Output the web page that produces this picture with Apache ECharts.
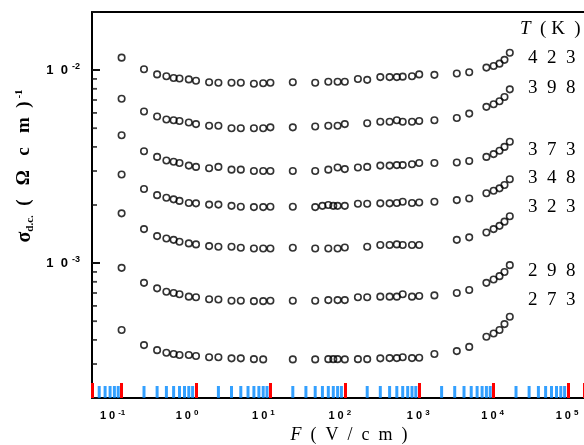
<!DOCTYPE html>
<html>
<head>
<meta charset="utf-8">
<script src="https://cdn.jsdelivr.net/npm/echarts@6/dist/echarts.min.js"></script>
<style>
html, body { margin: 0; padding: 0; background: #fff; }
#chart { width: 584px; height: 445px; }
</style>
</head>
<body>
<div id="chart"></div>
<script>
// field F (V/cm), shared by all temperatures
var field = [0.1, 0.2, 0.3, 0.4, 0.5, 0.6, 0.8, 1, 1.5, 2, 3, 4, 6, 8, 10, 20, 40, 50, 60, 70, 80, 100,
  150, 200, 300, 400, 500, 600, 800, 1000, 1600, 3200, 4700, 8000, 10000, 12000, 14000, 16500];

// sigma d.c. (ohm cm)^-1, null = no point
var s423 = [0.0116, 0.0101, 0.0095, 0.0093, 0.0091, 0.00905, 0.00895, 0.0088, 0.00865, 0.0086, 0.0086, 0.0086, 0.0085, 0.00855, 0.0086, 0.00865, 0.0086, null, 0.0087, null, 0.0087, 0.0087,
  0.0090, 0.0089, 0.0092, 0.0092, 0.0092, 0.00925, 0.0093, 0.0095, 0.00945, 0.0096, 0.00975, 0.0103, 0.0105, 0.0108, 0.0113, 0.0123];
var s398 = [0.0071, 0.0061, 0.00575, 0.00555, 0.0055, 0.00545, 0.00535, 0.00525, 0.00515, 0.00515, 0.0050, 0.0050, 0.0050, 0.0050, 0.00505, 0.00505, 0.0051, null, 0.00515, null, 0.00515, 0.00525,
  null, 0.0053, 0.0054, 0.0054, 0.0055, 0.0054, 0.0054, 0.00545, 0.0055, 0.00565, 0.00595, 0.00645, 0.00665, 0.0069, 0.00725, 0.00795];
var s373 = [0.0046, 0.0038, 0.00355, 0.0034, 0.00335, 0.0033, 0.0032, 0.00315, 0.0031, 0.00315, 0.00305, 0.00305, 0.0030, 0.0030, 0.0030, 0.0030, 0.0030, null, 0.00305, null, 0.00313, 0.00307,
  0.00313, 0.00315, 0.0032, 0.0032, 0.00322, 0.00322, 0.00325, 0.0033, 0.0033, 0.00332, 0.00338, 0.00355, 0.00367, 0.00382, 0.0040, 0.00425];
var s348 = [0.00288, 0.00242, 0.00225, 0.00218, 0.00214, 0.0021, 0.00205, 0.00204, 0.00201, 0.00201, 0.00198, 0.00196, 0.00195, 0.00195, 0.00196, 0.00196, 0.00195, 0.00198, 0.0020, 0.00198, 0.00198, 0.00198,
  0.00203, 0.00203, 0.00204, 0.00204, 0.00205, 0.00208, 0.00205, 0.00206, 0.00208, 0.00212, 0.00216, 0.0023, 0.00237, 0.00244, 0.00254, 0.00272];
var s323 = [0.00181, 0.0015, 0.00138, 0.00134, 0.00132, 0.00129, 0.001265, 0.00125, 0.001225, 0.001215, 0.001215, 0.0012, 0.00119, 0.00119, 0.00119, 0.0012, 0.00119, null, 0.00119, null, 0.00119, 0.001205,
  null, 0.001215, 0.00124, 0.00124, 0.00125, 0.00124, 0.00124, 0.00124, null, 0.00132, 0.00136, 0.00144, 0.0015, 0.00156, 0.00164, 0.00175];
var s298 = [0.000945, 0.00079, 0.00074, 0.00071, 0.0007, 0.00069, 0.00067, 0.000665, 0.00065, 0.000648, 0.000638, 0.000638, 0.000635, 0.000635, 0.000638, 0.000638, 0.000638, null, 0.000643, null, 0.000643, 0.000643,
  0.000665, 0.000665, 0.00067, 0.00067, 0.00067, 0.00069, 0.00067, 0.000675, 0.00068, 0.0007, 0.000725, 0.00079, 0.000823, 0.000856, 0.0009, 0.000976];
var s273 = [0.00045, 0.000376, 0.000354, 0.000343, 0.000338, 0.000334, 0.000334, 0.00033, 0.000325, 0.000325, 0.000321, 0.000321, 0.000318, 0.000317, null, 0.000317, 0.000317, null, 0.000318, 0.000318, 0.000318, 0.000317,
  0.000318, 0.000318, 0.000321, 0.000322, 0.000322, 0.000325, 0.000322, 0.000323, 0.000338, 0.00035, 0.000368, 0.000415, 0.000432, 0.00045, 0.000483, 0.000527];

var temps = ['4  2  3', '3  9  8', '3  7  3', '3  4  8', '3  2  3', '2  9  8', '2  7  3'];
var allSeries = [s423, s398, s373, s348, s323, s298, s273];

// axis range and minor tick steps
var xMin = 0.04, xMax = 164000, yMin = 2e-4, yMax = 2e-2;
var minorSteps = [2, 3, 4, 5, 6, 7, 8, 9];
var xDecades = [0.01, 0.1, 1, 10, 100, 1000, 10000, 100000];
var yDecades = [0.0001, 0.001, 0.01];

var serif = 'Liberation Serif';
var sans = 'Liberation Sans';

function pairs(ys) {
  var out = [];
  for (var i = 0; i < field.length; i++) {
    if (ys[i] != null) out.push([field[i], ys[i]]);
  }
  return out;
}

var xMinor = [], yMinor = [];
xDecades.forEach(function (d) {
  minorSteps.forEach(function (m) {
    var v = +(m * d).toPrecision(6);
    if (v > xMin * 1.001 && v < xMax * 0.999) xMinor.push([v, yMin]);
  });
});
yDecades.forEach(function (d) {
  minorSteps.forEach(function (m) {
    var v = +(m * d).toPrecision(6);
    if (v > yMin * 1.001 && v < yMax * 0.999) yMinor.push([xMin, v]);
  });
});

function powLabel(v) {
  var e = Math.log10(v);
  var r = Math.round(e);
  if (Math.abs(e - r) > 1e-6) return '';
  return r;
}

// the scanned x labels sit a little left of their ticks at the low end
var xLabelPad = { '-1': 'w18', '0': 'w18', '1': 'w14', '2': 'w10' };

var myChart = echarts.init(document.getElementById('chart'));

var series = allSeries.map(function (ys) {
  return {
    type: 'scatter',
    data: pairs(ys),
    symbol: 'circle',
    symbolSize: 6.5,
    itemStyle: {
      color: 'rgba(0,0,0,0)',
      borderColor: '#000',
      borderWidth: 1.6
    },
    silent: true
  };
});

// minor ticks (2..9 of every decade), drawn inward
series.push({
  type: 'scatter',
  data: xMinor,
  symbol: 'rect',
  symbolSize: [3, 12],
  symbolOffset: [0, -6],
  itemStyle: { color: '#08f' },
  clip: false,
  silent: true,
  z: 5
});
series.push({
  type: 'scatter',
  data: yMinor,
  symbol: 'rect',
  symbolSize: [5, 1.8],
  symbolOffset: [2.5, 0],
  itemStyle: { color: '#111' },
  clip: false,
  silent: true,
  z: 5
});

// temperature labels down the right side
var labelY = [58, 88, 150, 178, 207, 271, 300];
var titles = [{
  text: '{i|T}{n|  ( K  )}',
  left: 520, top: 19, padding: 0,
  textStyle: {
    lineHeight: 20,
    rich: {
      i: { fontFamily: serif, fontStyle: 'italic', fontWeight: 'normal', fontSize: 19, color: '#000', lineHeight: 20 },
      n: { fontFamily: serif, fontWeight: 'normal', fontSize: 19, color: '#000', lineHeight: 20 }
    }
  }
}];
temps.forEach(function (t, k) {
  titles.push({
    text: t,
    left: 528, top: labelY[k] - 10, padding: 0,
    textStyle: { fontFamily: serif, fontWeight: 'normal', fontSize: 19, color: '#000', lineHeight: 20 }
  });
});

var option = {
  animation: false,
  title: titles,
  grid: {
    left: 92, top: 12, right: 0, bottom: 47,
    outerBoundsMode: 'none'
  },
  xAxis: [{
    type: 'log',
    min: xMin,
    max: xMax,
    name: '{i|F}{n|  (  V  /  c  m  )}',
    nameLocation: 'middle',
    nameGap: 27,
    nameTextStyle: {
      padding: [0, 0, 0, 22],
      rich: {
        i: { fontFamily: serif, fontStyle: 'italic', fontSize: 18, color: '#000', lineHeight: 20 },
        n: { fontFamily: serif, fontSize: 18, color: '#000', lineHeight: 20 }
      }
    },
    axisLine: { show: true, lineStyle: { color: '#000', width: 2 } },
    axisTick: { show: true, inside: true, length: 15, lineStyle: { color: '#f00', width: 3 } },
    splitLine: { show: false },
    axisLabel: {
      margin: 11,
      formatter: function (v) {
        var r = powLabel(v);
        if (r === '') return '';
        var p = xLabelPad[String(r)] || 'w2';
        return '{b|1 0}{s|' + r + '}{' + p + '| }';
      },
      rich: {
        b: { fontFamily: sans, fontWeight: 'bold', fontSize: 11, color: '#000', lineHeight: 14 },
        s: { fontFamily: sans, fontWeight: 'bold', fontSize: 8, color: '#000', verticalAlign: 'top', lineHeight: 14, padding: [0, 0, 0, 3] },
        w18: { width: 18, fontSize: 8 },
        w14: { width: 14, fontSize: 8 },
        w10: { width: 10, fontSize: 8 },
        w2: { width: 2, fontSize: 8 }
      }
    }
  }, {
    type: 'log',
    position: 'top',
    min: xMin,
    max: xMax,
    axisLine: { show: true, lineStyle: { color: '#000', width: 2 } },
    axisTick: { show: false },
    axisLabel: { show: false },
    splitLine: { show: false }
  }],
  yAxis: {
    type: 'log',
    min: yMin,
    max: yMax,
    name: '{g|σ}{sub|d.c.}{n|  (   Ω   c   m  )}{sup| -1}',
    nameLocation: 'middle',
    nameRotate: 90,
    nameGap: 54,
    nameTextStyle: {
      padding: [0, 0, 0, 78],
      rich: {
        g: { fontFamily: serif, fontWeight: 'bold', fontSize: 20, color: '#000', lineHeight: 22 },
        sub: { fontFamily: serif, fontWeight: 'bold', fontSize: 11, color: '#000', verticalAlign: 'bottom', lineHeight: 22 },
        n: { fontFamily: serif, fontWeight: 'bold', fontSize: 19, color: '#000', lineHeight: 22 },
        sup: { fontFamily: serif, fontWeight: 'bold', fontSize: 11, color: '#000', verticalAlign: 'top', lineHeight: 22 }
      }
    },
    axisLine: { show: true, lineStyle: { color: '#000', width: 2 } },
    axisTick: { show: true, inside: true, length: 8, lineStyle: { color: '#111', width: 2 } },
    splitLine: { show: false },
    axisLabel: {
      margin: 12,
      formatter: function (v) {
        var r = powLabel(v);
        return r === '' ? '' : '{b|1  0}{s|' + r + '}';
      },
      rich: {
        b: { fontFamily: sans, fontWeight: 'bold', fontSize: 13, color: '#000', lineHeight: 16 },
        s: { fontFamily: sans, fontWeight: 'bold', fontSize: 9, color: '#000', verticalAlign: 'top', lineHeight: 16, padding: [0, 0, 0, 4] }
      }
    }
  },
  series: series
};

myChart.setOption(option);
</script>
</body>
</html>
